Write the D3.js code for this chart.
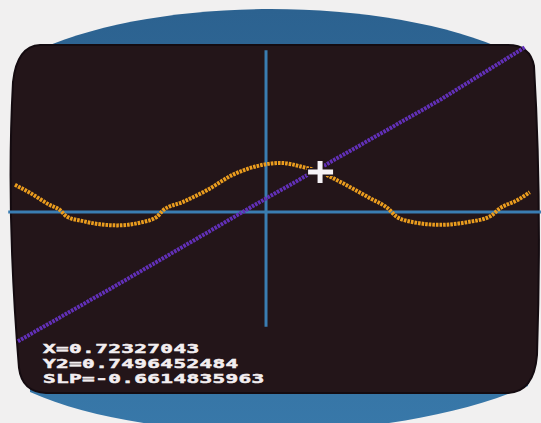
<!DOCTYPE html>
<html>
<head>
<meta charset="utf-8">
<script src="https://cdn.jsdelivr.net/npm/d3@7/dist/d3.min.js"></script>
<style>
  html, body { margin: 0; padding: 0; background: #f1f0f0; }
  svg { display: block; }
</style>
</head>
<body>
<svg id="chart" width="541" height="423"></svg>
<script>
// ---- data (math units, axes cross at 0,0) ----
const curveX = [-3.36, -3.16, -2.89, -2.76, -2.66, -2.45, -2.22, -1.99, -1.69, -1.46, -1.38, -1.11, -0.79, -0.44, -0.12, 0.19, 0.50, 0.72, 0.86, 1.12, 1.39, 1.63, 1.75, 1.97, 2.33, 2.69, 3.00, 3.13, 3.36, 3.53];
const curveY = [0.51, 0.36, 0.13, 0.04, -0.09, -0.17, -0.23, -0.25, -0.20, -0.09, 0.03, 0.19, 0.41, 0.70, 0.86, 0.92, 0.84, 0.75, 0.66, 0.47, 0.26, 0.07, -0.09, -0.19, -0.24, -0.19, -0.08, 0.07, 0.22, 0.37];
const lineX = [-3.32, -1.95, -0.08, 2.33, 3.47];
const lineY = [-2.42, -1.33, 0.19, 2.10, 3.09];
const xAxisSpan = [-3.45, 3.68];
const yAxisSpan = [-2.15, 3.03];
const cursorX = 0.72327043;
const cursorY = 0.7496452484;
const readouts = ["X=0.72327043", "Y2=0.7496452484", "SLP=-0.6614835963"];

const W = 541, H = 423;
const svg = d3.select("#chart");
const x = d3.scaleLinear().domain([-3.56, 3.68]).range([0, 541]);
const y = d3.scaleLinear().domain([3.97, -3.95]).range([0, 423]);

// background (photo surround)
svg.append("rect").attr("width", W).attr("height", H).attr("fill", "#f1f0f0");

// blue bezel
const defs = svg.append("defs");
const grad = defs.append("linearGradient").attr("id", "bez").attr("x1", 0).attr("y1", 0).attr("x2", 0).attr("y2", 1);
grad.append("stop").attr("offset", "0%").attr("stop-color", "#2c6290");
grad.append("stop").attr("offset", "100%").attr("stop-color", "#3878a9");
svg.append("path")
  .attr("d", "M30,54 C150,-6 390,-6 514,54 L528,386 C390,446 150,446 30,392 Z")
  .attr("fill", "url(#bez)");

// dark screen
svg.append("path")
  .attr("d", "M40,45 L508,45 Q530,45 534,66 Q542,200 537,355 Q534,392 508,393 L46,393 Q22,392 19,368 Q6,210 13,82 Q17,46 40,45 Z")
  .attr("fill", "#231519")
  .attr("stroke", "#140b10")
  .attr("stroke-width", 2);

const g = svg.append("g");

// axes
g.append("line")
  .attr("x1", x(xAxisSpan[0])).attr("x2", x(xAxisSpan[1]))
  .attr("y1", y(0)).attr("y2", y(0))
  .attr("stroke", "#3a7db2").attr("stroke-width", 3);
g.append("line")
  .attr("x1", x(0)).attr("x2", x(0))
  .attr("y1", y(yAxisSpan[1])).attr("y2", y(yAxisSpan[0]))
  .attr("stroke", "#3a7db2").attr("stroke-width", 3);

// purple line
const lineData = lineX.map((v, i) => [v, lineY[i]]);
g.append("path")
  .datum(lineData)
  .attr("d", d3.line().x(d => x(d[0])).y(d => y(d[1])))
  .attr("fill", "none")
  .attr("stroke", "#6230b8")
  .attr("stroke-width", 4)
  .attr("stroke-dasharray", "2.6,1")
  .attr("stroke-linecap", "butt");

// orange curve
const curveData = curveX.map((v, i) => [v, curveY[i]]);
g.append("path")
  .datum(curveData)
  .attr("d", d3.line().curve(d3.curveMonotoneX).x(d => x(d[0])).y(d => y(d[1])))
  .attr("fill", "none")
  .attr("stroke", "#eb9d1e")
  .attr("stroke-width", 4)
  .attr("stroke-dasharray", "2.6,1")
  .attr("stroke-linecap", "butt");

// cursor
const cx = x(cursorX), cy = y(cursorY);
const cross = g.append("g");
const arms = [[cx - 12, cy - 2.5, 25, 5], [cx - 2.5, cy - 11, 5, 22]];
arms.forEach(r => {
  cross.append("rect").attr("x", r[0]).attr("y", r[1]).attr("width", r[2]).attr("height", r[3])
    .attr("fill", "#231519").attr("stroke", "#231519").attr("stroke-width", 3);
});
arms.forEach(r => {
  cross.append("rect").attr("x", r[0]).attr("y", r[1]).attr("width", r[2]).attr("height", r[3])
    .attr("fill", "#f6f3f6");
});

// readouts
const tg = g.append("g");
readouts.forEach((t, i) => {
  tg.append("text")
    .attr("transform", `translate(43,${353 + i * 15}) scale(1.65,1)`)
    .attr("font-family", "'DejaVu Sans Mono', monospace")
    .attr("font-weight", "bold")
    .attr("font-size", 12.8)
    .attr("letter-spacing", 0.2)
    .attr("fill", "#f3eef0")
    .attr("stroke", "#f3eef0")
    .attr("stroke-width", 0.5)
    .text(t);
});
</script>
</body>
</html>
